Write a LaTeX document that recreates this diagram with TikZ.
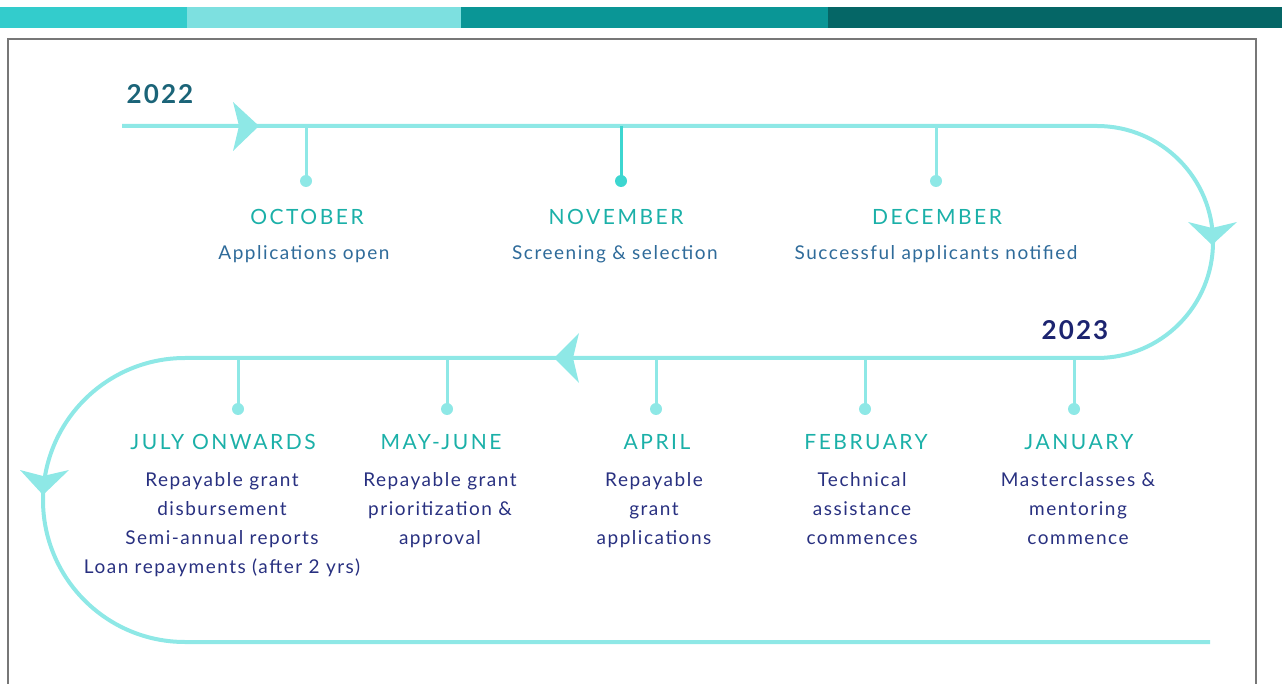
\documentclass[tikz,border=0pt]{standalone}
\usepackage{fontspec}
\setmainfont[LetterSpace=8]{Lato}
\newfontfamily\monthfont[LetterSpace=12]{Lato}
\newfontfamily\yearfont[LetterSpace=8]{Lato}
\definecolor{barA}{HTML}{33CCCC}
\definecolor{barB}{HTML}{7DE0E0}
\definecolor{barC}{HTML}{0A9696}
\definecolor{barD}{HTML}{056666}
\definecolor{linec}{HTML}{8EE8E6}
\definecolor{novc}{HTML}{3DD6D0}
\definecolor{monthc}{HTML}{1BB0A8}
\definecolor{topsub}{HTML}{2F6B9A}
\definecolor{botsub}{HTML}{283080}
\definecolor{yearA}{HTML}{1B6478}
\definecolor{yearB}{HTML}{1C2470}
\definecolor{framec}{HTML}{777777}
\tikzset{
  tl/.style={draw=linec, line width=4pt},
  tick/.style={draw=linec, line width=3pt},
  dotn/.style={circle, fill=linec, inner sep=0pt, minimum size=12pt},
  arrowhd/.style={fill=linec, draw=none},
  month/.style={text=monthc, font=\monthfont\fontsize{21}{24}\selectfont, inner sep=0pt, anchor=base},
  subtop/.style={text=topsub, font=\fontsize{19}{29}\selectfont, inner sep=0pt, anchor=base, align=center},
  subbot/.style={text=botsub, font=\fontsize{19}{29}\selectfont, inner sep=0pt, anchor=north, align=center},
  year/.style={font=\yearfont\bfseries\fontsize{26}{30}\selectfont, inner sep=0pt, anchor=base}
}
\begin{document}
\begin{tikzpicture}[x=1pt,y=-1pt]
\useasboundingbox (0,0) rectangle (1282,684);
% top colour bar
\fill[barA] (0,7) rectangle (187,28);
\fill[barB] (187,7) rectangle (461,28);
\fill[barC] (461,7) rectangle (828,28);
\fill[barD] (828,7) rectangle (1282,28);
% frame
\draw[framec, line width=2pt] (8,690) -- (8,39) -- (1256,39) -- (1256,690);
% timeline
\coordinate (start) at (122,126);
\coordinate (tr) at (1097,126);
\coordinate (mr) at (1097,358);
\coordinate (ml) at (185,358);
\coordinate (bl) at (185,642);
\coordinate (end) at (1210,642);
\draw[tl] (start) -- (tr) arc[start angle=90, end angle=-90, radius=116pt] -- (ml)
  arc[start angle=90, end angle=270, radius=142pt] -- (end);
% arrowheads
\fill[arrowhd] (259,126) -- (233,102) -- (239,126) -- (233,151) -- cycle;
\fill[arrowhd] (1212,245) -- (1188,222) -- (1212,228) -- (1237,222) -- cycle;
\fill[arrowhd] (554,358) -- (579,333) -- (573,358) -- (579,383) -- cycle;
\fill[arrowhd] (43,495) -- (20,470) -- (43,476) -- (69,470) -- cycle;
% years
\node[year, text=yearA] (y22) at (160,104) {2022};
\node[year, text=yearB] (y23) at (1075,340) {2023};
% top ticks
\node[dotn] (d1) at (306,181) {};
\node[dotn, fill=novc] (d2) at (621,181) {};
\node[dotn] (d3) at (936,181) {};
\coordinate (t1) at (306,126);
\coordinate (t2) at (621,126);
\coordinate (t3) at (936,126);
\draw[tick] (t1) -- (d1.center);
\draw[tick, draw=novc] (t2) -- (d2.center);
\draw[tick] (t3) -- (d3.center);
\node[month] (m1) at (307,225) {OCTOBER};
\node[month] (m2) at (616,225) {NOVEMBER};
\node[month] (m3) at (937,225) {DECEMBER};
\node[subtop] (s1) at (304,260) {Applications open};
\node[subtop] (s2) at (615,260) {Screening \& selection};
\node[subtop] (s3) at (936,260) {Successful applicants notified};
% bottom ticks
\foreach \n/\x in {4/1074,5/865,6/656,7/447,8/238}{
  \node[dotn] (d\n) at (\x,409) {};
  \coordinate (t\n) at (\x,358);
  \draw[tick] (t\n) -- (d\n.center);
}
\node[month] (m4) at (1079,449) {JANUARY};
\node[month] (m5) at (866,449) {FEBRUARY};
\node[month] (m6) at (657,449) {APRIL};
\node[month] (m7) at (441,449) {MAY-JUNE};
\node[month] (m8) at (223,449) {JULY ONWARDS};
\node[subbot] (s4) at (1078,472) {Masterclasses \&\\mentoring\\commence};
\node[subbot] (s5) at (862,472) {Technical\\assistance\\commences};
\node[subbot] (s6) at (654,472) {Repayable\\grant\\applications};
\node[subbot] (s7) at (440,472) {Repayable grant\\prioritization \&\\approval};
\node[subbot] (s8) at (222,472) {Repayable grant\\disbursement\\Semi-annual reports\\Loan repayments (after 2 yrs)};
\end{tikzpicture}
\end{document}
